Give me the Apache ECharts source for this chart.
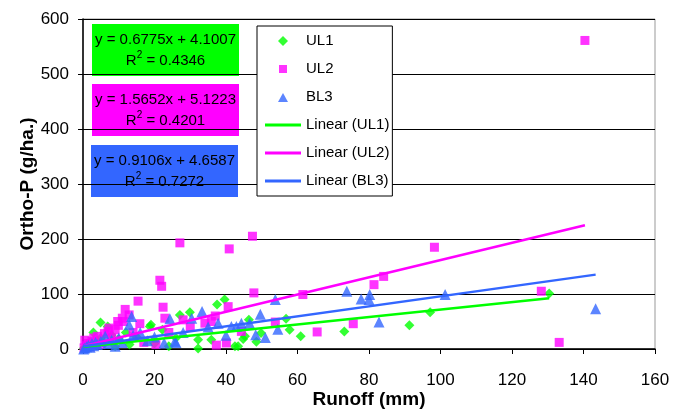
<!DOCTYPE html>
<html>
<head>
<meta charset="utf-8">
<script src="https://cdn.jsdelivr.net/npm/echarts@6/dist/echarts.min.js"></script>
<style>html,body{margin:0;padding:0;background:#fff}#c{width:674px;height:410px}</style>
</head>
<body>
<div id="c"></div>
<script>
// ---- data ----
var xTicks = [0, 20, 40, 60, 80, 100, 120, 140, 160];
var yTicks = [0, 100, 200, 300, 400, 500, 600];
var seriesNames = ['UL1', 'UL2', 'BL3'];
var ul1 = [[0.2,1],[0.5,3],[1,8],[1.5,2],[2,12],[2.9,30],[3,5],[4,15],[4.9,48],[5,20],[6,10],[6.9,41],[8,25],[9,5],[10,18],[12,30],[13,8],[15,22],[18.7,41],[19,44],[20,10],[22.2,35],[24,5],[26,20],[27.1,62],[29.9,67],[32.2,17],[32.2,1],[35.9,17],[37.5,81],[39.6,90],[42.5,5],[43.4,5],[44.8,18],[45.3,23],[46.4,53],[48.5,13],[49.8,29],[56.8,55],[57.8,35],[60.9,23],[73.1,32],[91.3,43],[97.1,67],[130.4,101]];
var ul2 = [[0.3,2],[0.5,16],[1,6],[1.5,10],[2,4],[2.5,14],[3,20],[4,23],[5,8],[6,28],[7,32],[7.3,38],[8,20],[9,35],[9.7,50],[9.9,43],[11,56],[11.3,50],[11.8,72],[12.9,62],[14,30],[15.4,87],[15.9,46],[17,12],[20.4,8],[21.5,125],[22,114],[22.4,76],[22.9,56],[24,30],[27.1,193],[28,53],[30,40],[34.1,47],[35.9,50],[37.3,7],[37,60],[40.1,11],[40.6,77],[40.9,182],[44.3,32],[47.4,205],[47.8,102],[53.8,49],[61.5,99],[65.5,31],[75.6,46],[81.4,117],[84.1,132],[98.3,185],[128.2,105],[133.2,12],[140.4,561]];
var bl3 = [[0.2,0],[0.5,2],[1,4],[1.5,7],[2,3],[2.5,10],[3,6],[3.5,12],[4,8],[5,14],[6.2,23],[7,10],[8,16],[9,5],[10,20],[11,12],[12.9,44],[13.6,59],[14,25],[16,30],[18,15],[20,22],[22.7,11],[24.3,55],[25.7,14],[26,12],[28,30],[30.4,56],[33.3,68],[35,40],[37.8,47],[40,25],[41.5,41],[42.9,41],[44.3,47],[46.6,47],[48.3,26],[49.6,63],[51,21],[53.8,90],[54.5,36],[73.8,105],[77.8,91],[80,90],[80.2,99],[82.8,49],[101.3,99],[143.4,73]];
// trendline coefficients [slope, intercept] and R2 as shown in the labels
var fitUL1 = [0.6775, 4.1007]; var r2UL1 = '0.4346';
var fitUL2 = [1.5652, 5.1223]; var r2UL2 = '0.4201';
var fitBL3 = [0.9106, 4.6587]; var r2BL3 = '0.7272';

var FONT = '"Liberation Sans", Arial, sans-serif';
var cGreen = '#00FF00', cMag = '#FF00FF', cBlue = '#3366FF';

function xRange(d){var mn=Infinity,mx=-Infinity;d.forEach(function(p){mn=Math.min(mn,p[0]);mx=Math.max(mx,p[0]);});return [mn,mx];}
function fitLine(d, f){var r=xRange(d);return r.map(function(x){return [x, f[0]*x+f[1]];});}
function eqText(f, r2){
  return '{a|y = ' + f[0].toFixed(4) + 'x + ' + f[1].toFixed(4) + '}\n{a|R}{s|2}{a| = ' + r2 + '}';
}

var chart = echarts.init(document.getElementById('c'), null, {renderer:'canvas'});
function box(x, y, color, text){
  return {type:'group', x:x, y:y, z:100, children:[
    {type:'rect', shape:{x:0,y:0,width:147,height:52}, style:{fill:color}},
    {type:'text', x:73.5, y:26, style:{text:text, align:'center', verticalAlign:'middle', fill:'#000',
      rich:{a:{fontSize:15, fontFamily:FONT, lineHeight:21, fill:'#000'}, s:{fontSize:10, fontFamily:FONT, lineHeight:12, verticalAlign:'top', fill:'#000'}}}}
  ]};
}
var lineIcon = 'path://M0,0L36,0L36,3L0,3Z';
var diamondIcon = 'path://M5,0L10,5L5,10L0,5Z';
var squareIcon = 'path://M0,0M10,10M1,1L9,1L9,9L1,9Z';
var triIcon = 'path://M0,0M10,10M5,1L10,10L0,10Z';
chart.setOption({
  backgroundColor:'#fff',
  animation:false,
  textStyle:{fontFamily:FONT},
  grid:{left:83, right:19, top:19, bottom:61, show:true, borderColor:'#999', borderWidth:1, backgroundColor:'#fff',
    containLabel:false, outerBoundsMode:'none'},
  xAxis:{type:'value', min:xTicks[0], max:xTicks[xTicks.length-1], interval:xTicks[1]-xTicks[0],
    name:'Runoff (mm)', nameLocation:'middle', nameGap:41, nameMoveOverlap:false,
    nameTextStyle:{fontSize:19, fontWeight:'bold', color:'#000', fontFamily:FONT},
    axisLine:{onZero:false, lineStyle:{color:'#000', width:1.5}},
    axisTick:{show:true, inside:false, length:5, lineStyle:{color:'#000'}},
    axisLabel:{fontSize:17, color:'#000', margin:23, fontFamily:FONT},
    splitLine:{show:false}},
  yAxis:{type:'value', min:yTicks[0], max:yTicks[yTicks.length-1], interval:yTicks[1]-yTicks[0],
    name:'Ortho-P (g/ha.)', nameLocation:'middle', nameGap:46, nameMoveOverlap:false,
    nameTextStyle:{fontSize:19, fontWeight:'bold', color:'#000', fontFamily:FONT},
    axisLine:{show:true, onZero:false, lineStyle:{color:'#000', width:1.5}},
    axisTick:{show:true, inside:false, length:5, lineStyle:{color:'#000'}},
    axisLabel:{fontSize:17, color:'#000', margin:14, fontFamily:FONT},
    splitLine:{show:true, lineStyle:{color:'#000', width:1}}},
  legend:{orient:'vertical', left:257, top:26, padding:[7,3,7,8], itemGap:12, itemWidth:36, itemHeight:10, itemTextGap:3,
    symbolKeepAspect:true,
    backgroundColor:'#fff', borderColor:'#000', borderWidth:1, z:50,
    textStyle:{fontSize:15, color:'#000', fontFamily:FONT, lineHeight:16},
    data:[{name:'UL1', icon:diamondIcon},{name:'UL2', icon:squareIcon},{name:'BL3', icon:triIcon},
      {name:'Linear (UL1)', icon:lineIcon},{name:'Linear (UL2)', icon:lineIcon},{name:'Linear (BL3)', icon:lineIcon}]},
  series:[
    {name:seriesNames[0], type:'scatter', symbol:'diamond', symbolSize:10, data:ul1, itemStyle:{color:cGreen}, z:2},
    {name:seriesNames[1], type:'scatter', symbol:'rect', symbolSize:9, data:ul2, itemStyle:{color:cMag}, z:3},
    {name:seriesNames[2], type:'scatter', symbol:'triangle', symbolSize:11, data:bl3, itemStyle:{color:cBlue}, z:4},
    {name:'Linear (UL1)', type:'line', symbol:'none', data:fitLine(ul1, fitUL1), lineStyle:{color:cGreen, width:2.5}, itemStyle:{color:cGreen}, z:5},
    {name:'Linear (UL2)', type:'line', symbol:'none', data:fitLine(ul2, fitUL2), lineStyle:{color:cMag, width:2.5}, itemStyle:{color:cMag}, z:5},
    {name:'Linear (BL3)', type:'line', symbol:'none', data:fitLine(bl3, fitBL3), lineStyle:{color:cBlue, width:2.5}, itemStyle:{color:cBlue}, z:5}
  ],
  graphic:[
    box(92, 24, cGreen, eqText(fitUL1, r2UL1)),
    box(92, 84, cMag, eqText(fitUL2, r2UL2)),
    box(91, 145, cBlue, eqText(fitBL3, r2BL3))
  ]
});
</script>
</body>
</html>
